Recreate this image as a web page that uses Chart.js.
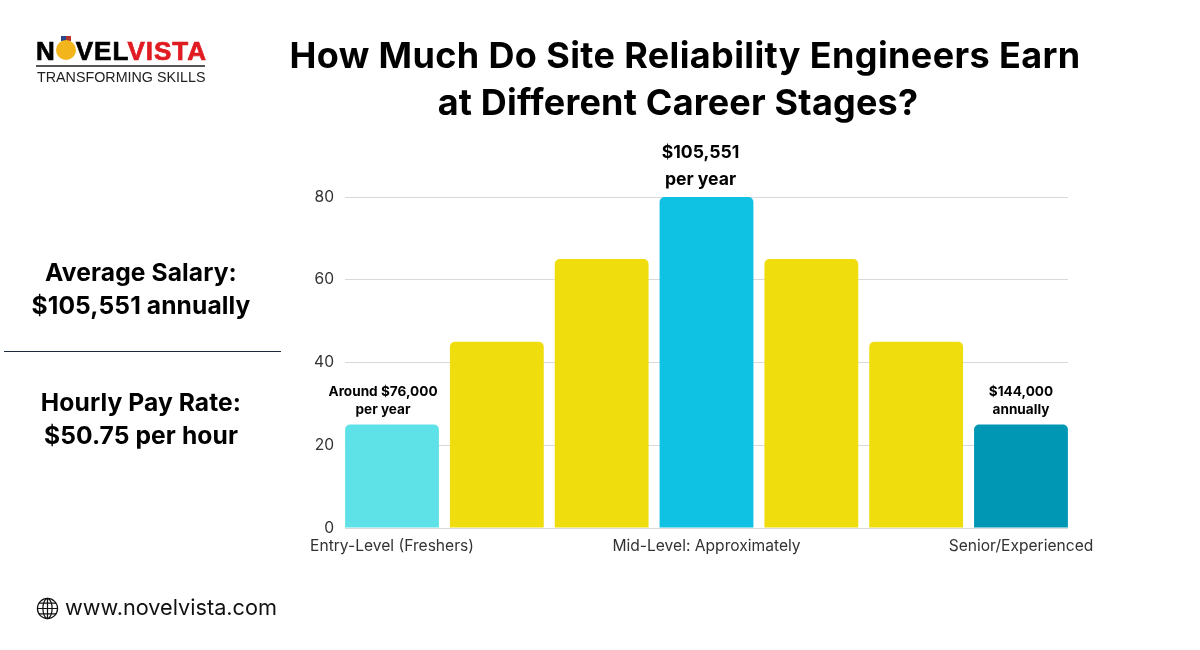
<!DOCTYPE html>
<html>
<head>
<meta charset="utf-8">
<title>Site Reliability Engineer Salaries</title>
<script src="https://cdn.jsdelivr.net/npm/chart.js@4"></script>
<style>
  html, body { margin: 0; padding: 0; background: #fff; }
  body { width: 1200px; height: 650px; overflow: hidden; position: relative; font-family: Inter, sans-serif; color: #000; }
  canvas { position: absolute; left: 0; top: 0; }
  .txt { position: absolute; white-space: nowrap; text-align: center; }
  #title { left: 285px; width: 800px; top: 32px; font-size: 36px; line-height: 47px; font-weight: 700; letter-spacing: 0.37px; }
  #title span { position: relative; left: -7px; letter-spacing: 0.2px; }
  .side { left: 0; width: 282px; font-size: 24.6px; line-height: 33px; font-weight: 700; letter-spacing: 0.1px; }
  #rule { position: absolute; left: 4px; top: 351px; width: 277px; height: 1px; background: #1c2b3a; }
  #logo { position: absolute; left: 36px; top: 36px; width: 172px; }
  #logoName { font: 700 26px "Liberation Sans", sans-serif; letter-spacing: 1px; line-height: 25px; white-space: nowrap; position: relative; -webkit-text-stroke: 0.7px currentColor; }
  #logoName b { color: #e01b22; font-weight: 700; }
  #logoLine { height: 2px; background: #555; margin-top: 1px; width: 169px; }
  #logoSub { font: 14.3px "Liberation Sans", sans-serif; color: #222; margin-top: 2px; white-space: nowrap; padding-left: 1px; }
  #web { position: absolute; left: 65px; top: 594px; font-size: 21.7px; line-height: 26px; color: #111; white-space: nowrap; }
  #globe { position: absolute; left: 36px; top: 597px; }
</style>
</head>
<body>
<canvas id="salaryChart" width="1200" height="650"></canvas>

<div id="logo">
  <div id="logoName">N<svg width="22" height="28" viewBox="0 0 22 28" style="vertical-align:-4px;margin:0 -1px"><rect x="6" y="0" width="10" height="5" fill="#274a8a"/><rect x="11" y="0" width="5" height="5" fill="#b5352c"/><circle cx="11" cy="14" r="10" fill="#f2b51c"/></svg>VEL<b>VISTA</b></div>
  <div id="logoLine"></div>
  <div id="logoSub">TRANSFORMING SKILLS</div>
</div>

<div class="txt" id="title">How Much Do Site Reliability Engineers Earn<br><span>at Different Career Stages?</span></div>

<div class="txt side" style="top:256px">Average Salary:<br>$105,551 annually</div>
<div id="rule"></div>
<div class="txt side" style="top:386px">Hourly Pay Rate:<br>$50.75 per hour</div>

<svg id="globe" width="23" height="23" viewBox="0 0 24 24" fill="none" stroke="#111" stroke-width="1.3">
  <circle cx="12" cy="12" r="10.5"/>
  <ellipse cx="12" cy="12" rx="4.8" ry="10.5"/>
  <path d="M12 1.5v21M1.5 12h21M3 6.5h18M3 17.5h18"/>
</svg>
<div class="txt" id="web">www.novelvista.com</div>

<script>
// Posisi batang, nilai, dan warna
const positions = [1, 2, 3, 4, 5, 6, 7];
const values = [25, 45, 65, 80, 65, 45, 25];
const tickNames = ['Entry-Level (Freshers)', '', '', 'Mid-Level: Approximately', '', '', 'Senior/Experienced'];
const barColors = ['#5ee2e8', '#f0dd0e', '#f0dd0e', '#0fc1e2', '#f0dd0e', '#f0dd0e', '#0097b5'];
const barNotes = [['Around $76,000', 'per year'], null, null, ['$105,551', 'per year'], null, null, ['$144,000', 'annually']];
const noteFonts = [13.6, 0, 0, 17.6, 0, 0, 13.6];
const noteLines = [18, 0, 0, 27, 0, 0, 18];
const noteGaps = [15, 0, 0, 17, 0, 0, 15];
const noteShift = [-9, 0, 0, -6, 0, 0, 0];
const yTicks = [0, 20, 40, 60, 80];

// Label di atas batang
const barNotesPlugin = {
    id: 'barNotes',
    afterDatasetsDraw(chart) {
        const ctx = chart.ctx;
        ctx.save();
        ctx.fillStyle = '#000';
        ctx.textAlign = 'center';
        ctx.textBaseline = 'middle';
        chart.getDatasetMeta(0).data.forEach((bar, i) => {
            if (!barNotes[i]) return;
            ctx.font = '700 ' + noteFonts[i] + 'px Inter, sans-serif';
            barNotes[i].forEach((line, n) => {
                const y = bar.y - noteGaps[i] - (barNotes[i].length - 1 - n) * noteLines[i];
                ctx.fillText(line, bar.x + noteShift[i], y);
            });
        });
        ctx.restore();
    }
};

new Chart(document.getElementById('salaryChart').getContext('2d'), {
    type: 'bar',
    data: {
        datasets: [{
            data: positions.map((p, i) => ({ x: p, y: values[i] })),
            backgroundColor: barColors,
            borderRadius: { topLeft: 5, topRight: 5 },
            barPercentage: 0.895,
            categoryPercentage: 1
        }]
    },
    options: {
        responsive: false,
        animation: false,
        layout: { padding: { top: 197, right: 132, left: 0, bottom: 0 } },
        plugins: { legend: { display: false }, tooltip: { enabled: false } },
        scales: {
            x: {
                type: 'linear',
                offset: false,
                min: 0.5515,
                max: 7.4485,
                grid: { display: false, offset: false },
                border: { display: false },
                afterBuildTicks: scale => { scale.ticks = positions.map(p => ({ value: p })); },
                afterFit: scale => { scale.height = 122; },
                ticks: {
                    autoSkip: false,
                    maxRotation: 0,
                    padding: 1,
                    color: '#333',
                    font: { family: 'Inter', size: 15.6 },
                    callback: value => tickNames[positions.indexOf(value)]
                }
            },
            y: {
                min: 0,
                max: 80,
                afterBuildTicks: scale => { scale.ticks = yTicks.map(v => ({ value: v })); },
                afterFit: scale => { scale.width = 345; },
                grid: { color: '#d9d9d9', drawTicks: false },
                border: { display: false },
                ticks: { padding: 11, color: '#333', font: { family: 'Inter', size: 15.6 } }
            }
        }
    },
    plugins: [barNotesPlugin]
});
</script>
</body>
</html>
